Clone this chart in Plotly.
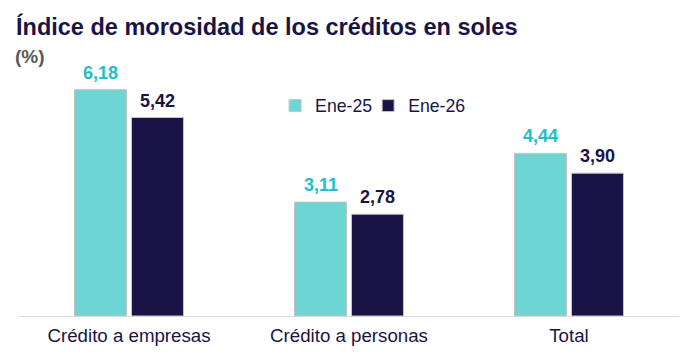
import plotly.graph_objects as go

categories = ["Crédito a empresas", "Crédito a personas", "Total"]
ene25 = [6.18, 3.11, 4.44]
ene26 = [5.42, 2.78, 3.90]
series_names = ["Ene-25", "Ene-26"]

TEAL = "#6dd5d3"
TEAL_TXT = "#20c0c3"
NAVY = "#1a1446"
FONT = "Liberation Sans, Arial, sans-serif"

fig = go.Figure()
fig.add_bar(x=categories, y=ene25, name=series_names[0], legend="legend",
            marker=dict(color=TEAL, line=dict(color="#c4c4c4", width=1)))
fig.add_bar(x=categories, y=ene26, name=series_names[1], legend="legend2",
            marker=dict(color=NAVY, line=dict(color="#c4c4c4", width=1)))

# value labels above bars
for vals, col, shift in [(ene25, TEAL_TXT, -28.5), (ene26, NAVY, 28.5)]:
    for c, v in zip(categories, vals):
        fig.add_annotation(x=c, y=v, xref="x", yref="y", text=f"{v:.2f}".replace(".", ","),
                           showarrow=False, xanchor="center", yanchor="middle",
                           xshift=shift, yshift=17,
                           font=dict(size=18, color=col, family=FONT, weight="bold"))

legend_common = dict(orientation="h", y=0.82, xanchor="left", yanchor="middle",
                     font=dict(size=17.7, color=NAVY, family=FONT), bgcolor="rgba(0,0,0,0)",
                     itemwidth=30)

# page body has an 8px margin: compensate so the figure lands at 0..698 x 0..357
fig.update_layout(
    width=690, height=349,
    margin=dict(l=11, r=19, t=52, b=38),
    paper_bgcolor="white", plot_bgcolor="white",
    separators=",.",
    barmode="group", bargap=0.482, bargroupgap=0.088,
    font=dict(family=FONT, color=NAVY),
    showlegend=True,
    legend=dict(x=0.388, **legend_common),
    legend2=dict(x=0.529, **legend_common),
    xaxis=dict(showline=True, linecolor="#d9d9d9", linewidth=1, ticks="",
               ticklabelstandoff=3,
               tickfont=dict(size=18.7, color=NAVY, family=FONT)),
    yaxis=dict(range=[0, 6.99], visible=False, showgrid=False, zeroline=False),
)

fig.add_annotation(text="Índice de morosidad de los créditos en soles", xref="paper", yref="paper",
                   x=0, y=1, xanchor="left", yanchor="middle", xshift=-5, yshift=34,
                   showarrow=False, font=dict(size=23.5, color=NAVY, family=FONT, weight="bold"))
fig.add_annotation(text="(%)", xref="paper", yref="paper",
                   x=0, y=1, xanchor="left", yanchor="middle", xshift=-6, yshift=4,
                   showarrow=False, font=dict(size=19, color="#595959", family=FONT, weight="bold"))

fig.write_html("out.html")
